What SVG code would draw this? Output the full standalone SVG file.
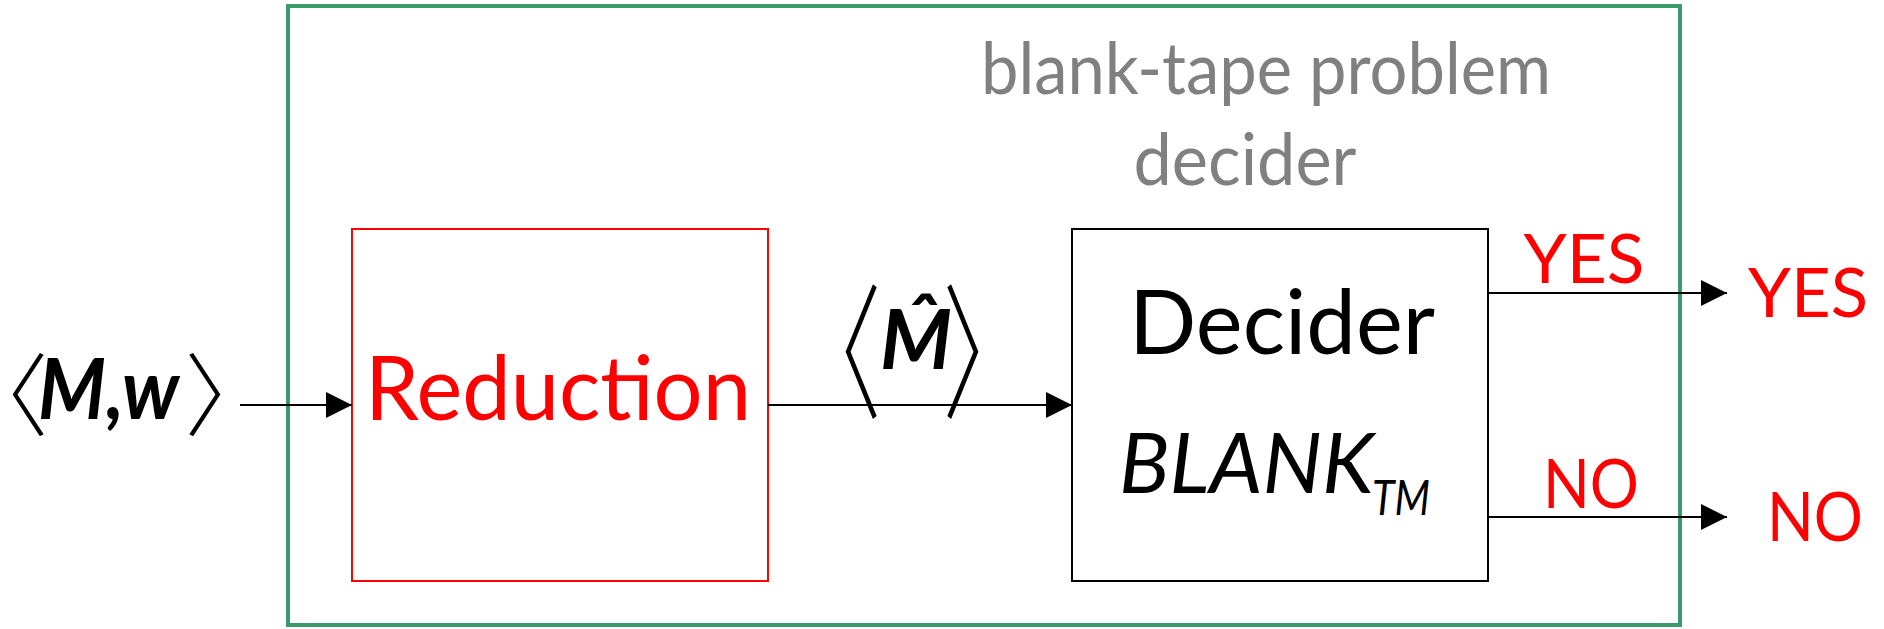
<svg xmlns="http://www.w3.org/2000/svg" width="1884" height="629" viewBox="0 0 1884 629">
<style>
.hand{font-family:"Comic Sans MS","Lato","Open Sans",sans-serif;}
.itb{font-family:"Comic Sans MS","Lato","Open Sans",sans-serif;font-style:italic;font-weight:bold;}
.it{font-family:"Comic Sans MS","Lato","Open Sans",sans-serif;font-style:italic;}
.br{font-family:"Noto Sans CJK JP",sans-serif;font-weight:300;font-style:normal;font-feature-settings:"palt" 1;}
.conn{stroke:#000;stroke-width:2;fill:none;}
</style>
<defs>
<marker id="ah" markerUnits="userSpaceOnUse" markerWidth="26" markerHeight="26" refX="26" refY="13" orient="auto"><path d="M0,0 L26,13 L0,26 z" fill="#000"/></marker>
</defs>
<rect width="1884" height="629" fill="#fff"/>
<g id="outer">
<rect x="288" y="6" width="1392" height="619" fill="none" stroke="#3b9b6b" stroke-width="4"/>
<text class="hand" x="1266" y="94" font-size="72" fill="#808080" text-anchor="middle" textLength="570" lengthAdjust="spacingAndGlyphs">blank-tape problem</text>
<text class="hand" x="1245" y="185" font-size="72" fill="#808080" text-anchor="middle" textLength="223" lengthAdjust="spacingAndGlyphs">decider</text>
</g>
<g id="input">
<text class="br" x="1" y="429" font-size="90" letter-spacing="-12">〈</text>
<text class="itb" x="38" y="419" font-size="84" textLength="141" lengthAdjust="spacingAndGlyphs">M,w</text>
<text class="br" x="187" y="429" font-size="90">〉</text>
</g>
<g id="reduction">
<rect x="352" y="229" width="416" height="352" fill="none" stroke="#f00" stroke-width="2"/>
<text class="hand" x="558" y="420" font-size="90" fill="#f00" text-anchor="middle" textLength="386" lengthAdjust="spacingAndGlyphs">Reduction</text>
</g>
<g id="decider">
<rect x="1072" y="229" width="416" height="352" fill="none" stroke="#000" stroke-width="2"/>
<text class="hand" x="1282" y="354" font-size="90" text-anchor="middle" textLength="306" lengthAdjust="spacingAndGlyphs">Decider</text>
<text class="it" x="1119" y="493" font-size="83" textLength="255" lengthAdjust="spacingAndGlyphs">BLANK</text>
<text class="it" x="1372" y="515" font-size="48" textLength="58" lengthAdjust="spacingAndGlyphs">TM</text>
</g>
<g id="connectors">
<line class="conn" x1="240" y1="405" x2="352" y2="405" marker-end="url(#ah)"/>
<line class="conn" x1="768" y1="405" x2="1072" y2="405" marker-end="url(#ah)"/>
<line class="conn" x1="1488" y1="293" x2="1727" y2="293" marker-end="url(#ah)"/>
<line class="conn" x1="1488" y1="517" x2="1727" y2="517" marker-end="url(#ah)"/>
</g>
<g id="mhat">
<text class="br" transform="translate(879,407) scale(1,1.62)" font-size="90" text-anchor="end">〈</text>
<text class="itb" x="880" y="369" font-size="82">M̂</text>
<text class="br" transform="translate(945,407) scale(1,1.62)" font-size="90">〉</text>
</g>
<g id="labels">
<text class="hand" x="1584" y="283" font-size="68" fill="#f00" text-anchor="middle" textLength="121" lengthAdjust="spacingAndGlyphs">YES</text>
<text class="hand" x="1808" y="317" font-size="68" fill="#f00" text-anchor="middle" textLength="120" lengthAdjust="spacingAndGlyphs">YES</text>
<text class="hand" x="1591" y="508" font-size="68" fill="#f00" text-anchor="middle" textLength="96" lengthAdjust="spacingAndGlyphs">NO</text>
<text class="hand" x="1815" y="541" font-size="68" fill="#f00" text-anchor="middle" textLength="96" lengthAdjust="spacingAndGlyphs">NO</text>
</g>
</svg>
